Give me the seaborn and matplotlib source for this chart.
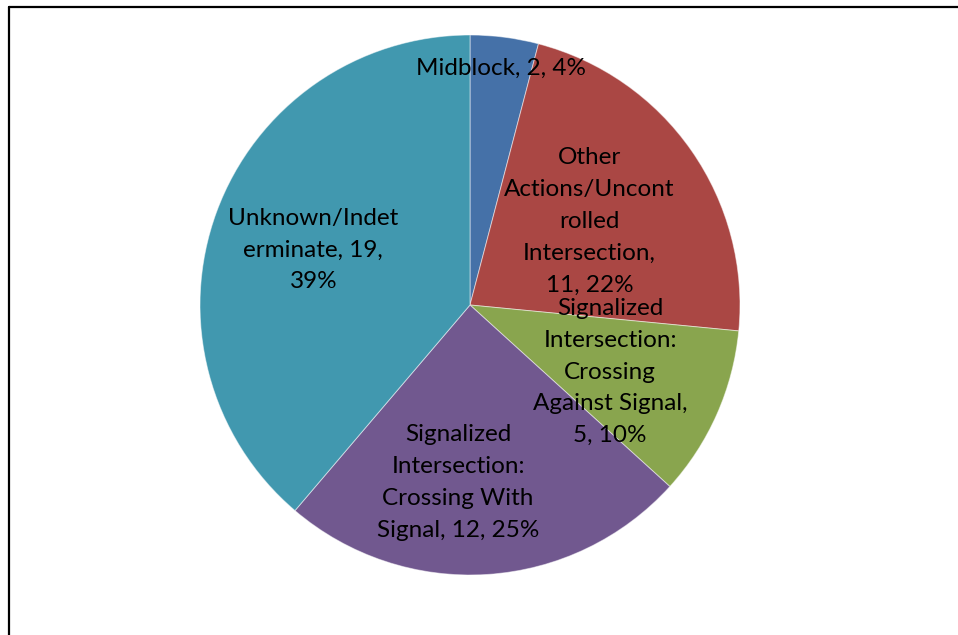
import matplotlib
matplotlib.use("Agg")
import matplotlib.pyplot as plt
import numpy as np
import seaborn as sns

# Pedestrian crash locations
categories = [
    "Midblock",
    "Other\nActions/Uncont\nrolled\nIntersection,",
    "Signalized\nIntersection:\nCrossing\nAgainst Signal,",
    "Signalized\nIntersection:\nCrossing With\nSignal,",
    "Unknown/Indet\nerminate,",
]
counts = [2, 11, 5, 12, 19]
pct_labels = ["4%", "22%", "10%", "25%", "39%"]
colors = ["#4571A8", "#AA4744", "#89A54E", "#71588F", "#4198AF"]

label_texts = [
    "Midblock, 2, 4%",
    "Other\nActions/Uncont\nrolled\nIntersection,\n11, 22%",
    "Signalized\nIntersection:\nCrossing\nAgainst Signal,\n5, 10%",
    "Signalized\nIntersection:\nCrossing With\nSignal, 12, 25%",
    "Unknown/Indet\nerminate, 19,\n39%",
]
# radial placement of each label (fraction of radius) and angular nudge (deg)
label_radius = [0.885, 0.54, 0.575, 0.66, 0.615]
label_nudge = [0.0, 0.0, -1.7, -7.5, 0.9]

sns.set_theme(style="white")
plt.rcParams["font.family"] = ["Lato", "DejaVu Sans"]

W, H = 958, 635
fig = plt.figure(figsize=(W / 100, H / 100), dpi=100)
fig.patch.set_facecolor("white")

cx, cy, r = 470, 305, 270
ax = fig.add_axes([(cx - r) / W, (H - cy - r) / H, 2 * r / W, 2 * r / H])

wedges, _ = ax.pie(
    counts,
    colors=colors,
    startangle=90,
    counterclock=False,
    radius=1.0,
    wedgeprops=dict(edgecolor=(1, 1, 1, 0.5), linewidth=0.7),
)
ax.set_xlim(-1, 1)
ax.set_ylim(-1, 1)
ax.set_aspect("equal")
ax.axis("off")

for w, txt, rr, nd in zip(wedges, label_texts, label_radius, label_nudge):
    mid = np.deg2rad((w.theta1 + w.theta2) / 2 + nd)
    ax.text(rr * np.cos(mid), rr * np.sin(mid), txt, ha="center", va="center",
            fontsize=17.5, color="black", linespacing=1.64, multialignment="center")

# outer frame (top and left edges visible)
fig.add_artist(plt.Line2D([9 / W, 9 / W], [0, 1 - 6.5 / H], transform=fig.transFigure,
                          color="black", linewidth=1.6))
fig.add_artist(plt.Line2D([9 / W, 1], [1 - 6.5 / H, 1 - 6.5 / H], transform=fig.transFigure,
                          color="black", linewidth=1.6))

fig.savefig("out.png", dpi=100, facecolor="white")
